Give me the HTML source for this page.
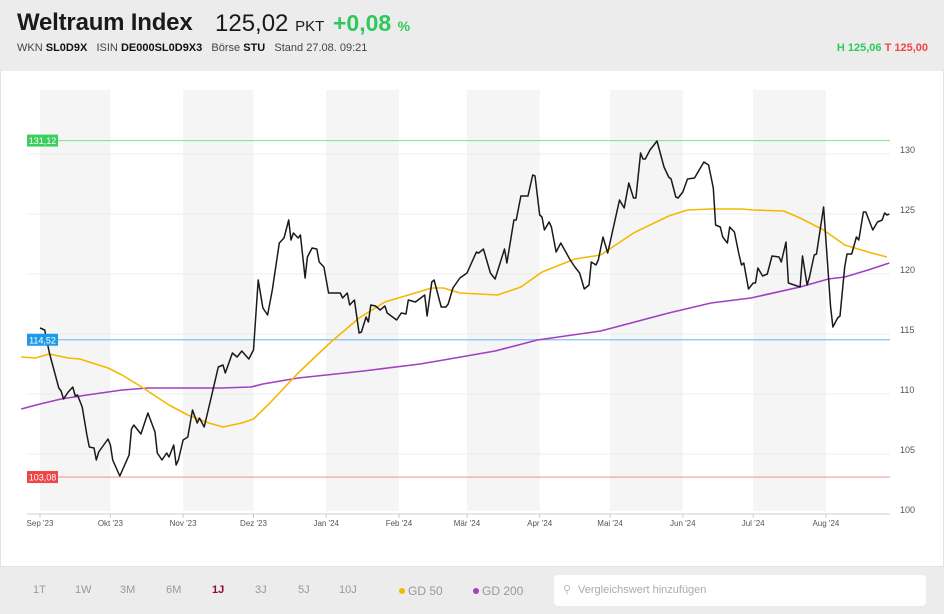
<!DOCTYPE html>
<html><head><meta charset="utf-8">
<style>
*{margin:0;padding:0;box-sizing:border-box}
body{width:944px;height:614px;background:#fff;font-family:"Liberation Sans",sans-serif;position:relative;overflow:hidden}
#hdr{position:absolute;left:0;top:0;width:944px;height:71px;background:#ececed}
#title{position:absolute;left:17px;top:9px;font-size:24px;font-weight:bold;color:#1a1a1a;white-space:nowrap;letter-spacing:-0.2px}
#price{position:absolute;left:215px;top:10px;font-size:24px;color:#1a1a1a;white-space:nowrap}
#price small{font-size:15px}
#chg{position:absolute;left:333px;top:10px;font-size:23px;font-weight:bold;color:#2ec95a;white-space:nowrap}
#chg small{font-size:14px}
#sub{position:absolute;left:17px;top:42px;font-size:11px;color:#444;white-space:nowrap}
#sub b{color:#111}
#hl{position:absolute;right:16px;top:42px;font-size:11px;font-weight:bold;white-space:nowrap}
#chart{position:absolute;left:0;top:71px;width:944px;height:496px;border:1px solid #e4e4e4;border-top:none}
#bar{position:absolute;left:0;top:567px;width:944px;height:47px;background:#ececed}
.rng{position:absolute;top:17px;font-size:11px;color:#999}
.leg{position:absolute;top:17px;font-size:12px;color:#999}
.dot{display:inline-block;width:6px;height:6px;border-radius:3px;margin-right:3px;vertical-align:1px}
#search{position:absolute;left:554px;top:8px;width:372px;height:31px;background:#fff;border-radius:4px;font-size:11px;color:#aaa;padding:9px 0 0 24px}
</style></head><body>
<div id="hdr">
<div id="title">Weltraum Index</div>
<div id="price">125,02 <small>PKT</small></div>
<div id="chg">+0,08 <small>%</small></div>
<div id="sub">WKN <b>SL0D9X</b>&nbsp;&nbsp; ISIN <b>DE000SL0D9X3</b>&nbsp;&nbsp; Börse <b>STU</b>&nbsp;&nbsp; Stand 27.08. 09:21</div>
<div id="hl"><span style="color:#2ec95a">H 125,06</span> <span style="color:#ef4444">T 125,00</span></div>
</div>
<div id="chart">
<svg id="svg" width="944" height="496" viewBox="0 71 944 496" style="position:absolute;left:0;top:0"></svg>
</div>
<div id="bar">
<span class="rng" style="left:33px">1T</span>
<span class="rng" style="left:75px">1W</span>
<span class="rng" style="left:120px">3M</span>
<span class="rng" style="left:166px">6M</span>
<span class="rng" style="left:212px;color:#8b0f2a;font-weight:bold">1J</span>
<span class="rng" style="left:255px">3J</span>
<span class="rng" style="left:298px">5J</span>
<span class="rng" style="left:339px">10J</span>
<span class="leg" style="left:399px"><span class="dot" style="background:#f5b800"></span>GD 50</span>
<span class="leg" style="left:473px"><span class="dot" style="background:#a23fc0"></span>GD 200</span>
<div id="search"><span style="position:absolute;left:9px;top:8px;color:#bbb">&#9906;</span>Vergleichswert hinzufügen</div>
</div>
<script>
const monthLabels=["Sep '23","Okt '23","Nov '23","Dez '23","Jan '24","Feb '24","Mär '24","Apr '24","Mai '24","Jun '24","Jul '24","Aug '24"];
const monthDays=[0,30,61,91,122,153,182,213,243,274,304,335];
const yTicks=[100,105,110,115,120,125,130];
const priceDays=[0,2,4,8,9,10,12,14,15,16,18,20,21,23,24,25,29,30,31,34,38,39,40,43,46,49,50,52,54,55,57,58,59,61,63,65,67,68,70,73,76,78,79,82,84,86,89,91,93,95,97,99,102,104,106,107,108,110,111,113,114,116,118,119,121,123,128,129,131,132,134,136,137,139,140,141,143,145,147,148,152,154,156,157,160,164,165,167,168,171,173,174,176,179,182,186,187,189,192,194,198,199,202,203,205,208,210,211,213,214,215,217,218,220,222,226,228,230,232,234,235,237,238,240,242,247,249,251,253,254,256,257,258,260,263,266,268,269,271,272,274,276,279,283,285,287,288,290,291,293,294,296,298,299,300,302,304,305,306,308,310,312,315,316,318,319,324,325,327,328,330,331,334,337,338,340,341,343,344,346,348,349,351,352,355,357,359,360,361,362];
const priceValues=[115.5,115.33,113.42,110.5,110.25,109.58,110.17,110.58,109.83,109.92,108.92,106.58,105.58,105.5,104.5,105.17,106.25,105.75,104.5,103.17,104.92,107.08,107.42,106.67,108.42,106.83,105.08,104.5,105.08,104.75,105.75,104.08,104.5,106.17,106.42,108.67,107.58,108.0,107.25,109.75,112.25,112.42,111.75,113.42,113.08,113.58,112.92,113.67,119.5,117.17,116.58,118.67,122.58,123.0,124.5,122.83,123.42,123.0,123.25,119.67,121.42,122.17,122.08,121.0,120.58,118.42,118.42,118.0,118.42,117.42,117.83,115.08,115.17,116.42,116.0,117.42,117.33,117.0,117.33,116.75,116.17,116.75,116.67,117.83,117.67,118.25,116.5,119.33,119.5,117.25,117.25,117.5,118.83,119.67,120.08,121.83,121.75,122.08,120.08,119.58,122.08,120.92,124.5,124.5,126.5,126.5,128.25,128.17,124.92,124.75,123.67,124.33,123.92,121.83,122.58,121.17,120.58,120.08,118.75,119.08,121.0,120.75,121.17,123.08,121.75,126.17,125.5,127.58,126.33,126.33,130.08,129.58,129.58,130.33,131.08,128.92,128.08,127.92,126.42,126.33,126.83,127.92,128.0,129.33,129.08,127.17,124.08,123.92,123.08,122.58,123.92,123.5,121.58,120.75,120.92,118.75,119.25,119.25,120.5,119.83,120.0,121.5,121.42,121.0,122.67,119.25,118.92,121.5,119.08,119.75,121.58,121.67,125.58,117.25,115.58,116.33,116.5,120.58,121.67,121.67,123.08,122.83,125.17,125.17,123.67,124.33,124.5,125.08,124.92,125.0];
const gd50Days=[-8,-2,4,12,17,29,35,44,55,63,72,78,86,91,98,110,124,136,147,167,172,179,195,205,214,228,239,253,268,276,286,299,304,317,324,334,343,353,361];
const gd50Values=[113.08,113.0,113.33,113.0,112.92,112.17,111.58,110.5,109.08,108.25,107.58,107.25,107.58,107.92,109.25,111.75,114.33,116.33,117.67,118.83,118.83,118.42,118.25,118.92,120.17,121.25,121.58,123.42,124.83,125.33,125.42,125.42,125.33,125.25,124.67,123.67,122.42,121.83,121.42];
const gd200Days=[-8,0,9,20,35,46,63,77,90,95,110,138,162,172,194,212,239,268,286,303,324,336,343,353,362];
const gd200Values=[108.75,109.17,109.58,109.92,110.33,110.5,110.5,110.5,110.58,110.83,111.33,111.92,112.5,112.83,113.58,114.5,115.25,116.75,117.58,118.0,118.92,119.58,119.75,120.33,120.92];
const refValues=[131.12,114.52,103.08];
const refLabels=["131,12","114,52","103,08"];
const refColors=["#3ccf5f","#1e9be8","#ef4444"];
const lineColors=["#8ee39f","#7fc3ef","#f39c9c"];

const X0=39,PXD=2.346,LEFT=26,RIGHT=889;
const xS=d=>X0+d*PXD;
const yS=v=>154+(130-v)*12;
const svg=document.getElementById('svg');
const NS='http://www.w3.org/2000/svg';
function mk(tag,attrs){const e=document.createElementNS(NS,tag);for(const k in attrs)e.setAttribute(k,attrs[k]);svg.appendChild(e);return e;}
for(let i=0;i<monthDays.length;i+=2){
 const x1=xS(monthDays[i]);const x2=i+1<monthDays.length?xS(monthDays[i+1]):RIGHT;
 const r=mk('rect',{x:x1,y:90,width:Math.min(x2,RIGHT)-x1,height:421,fill:'#f5f5f5'});
 
 
}
yTicks.forEach(v=>{
 const g=mk('line',{x1:LEFT,x2:RIGHT,y1:yS(v),y2:yS(v),stroke:'#ececec','stroke-width':1});
 
 
 const t=mk('text',{x:899,y:yS(v)-1,'font-size':9,fill:'#555','font-family':'Liberation Sans, sans-serif'});
 t.textContent=String(v);
 
 
});
const ax=mk('line',{x1:LEFT,x2:RIGHT,y1:514,y2:514,stroke:'#e6e6e6','stroke-width':2});


monthDays.forEach((d,i)=>{
 const tk=mk('line',{x1:xS(d),x2:xS(d),y1:514,y2:518,stroke:'#ccc'});
 
 
 const t=mk('text',{x:xS(d),y:526,'font-size':8,fill:'#555','text-anchor':'middle','font-family':'Liberation Sans, sans-serif'});
 t.textContent=monthLabels[i];
 
 
});
refValues.forEach((v,i)=>{
 const l=mk('line',{x1:LEFT,x2:RIGHT,y1:yS(v),y2:yS(v),stroke:lineColors[i],'stroke-width':1.2});
 
 
});
function path(days,vals,color,w,name){
 const d=days.map((dd,i)=>(i?'L':'M')+xS(dd).toFixed(1)+' '+yS(vals[i]).toFixed(1)).join(' ');
 const p=mk('path',{d:d,fill:'none',stroke:color,'stroke-width':w,'stroke-linejoin':'round'});
 
 
}
path(gd200Days,gd200Values,'#a23fc0',1.6,'gd200-line');
path(gd50Days,gd50Values,'#f5b800',1.6,'gd50-line');
path(priceDays,priceValues,'#1a1a1a',1.5,'price-line');
refValues.forEach((v,i)=>{
 const r=mk('rect',{x:LEFT,y:yS(v)-6,width:31,height:12,fill:refColors[i]});
 
 
 const t=mk('text',{x:LEFT+15.5,y:yS(v)+3.5,'font-size':9,fill:'#fff','text-anchor':'middle','font-family':'Liberation Sans, sans-serif'});
 t.textContent=refLabels[i];
 
 
});
</script>
</body></html>
